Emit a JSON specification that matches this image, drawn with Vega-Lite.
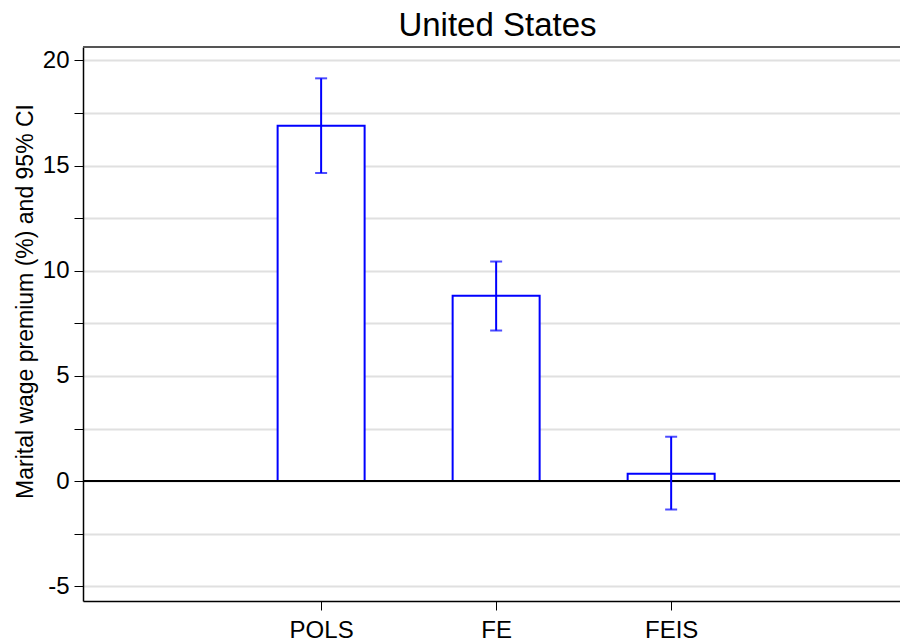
{
  "$schema": "https://vega.github.io/schema/vega-lite/v6.json",
  "width": 817,
  "height": 554,
  "autosize": {"type": "none"},
  "padding": {"left": 83, "top": 47, "right": 0, "bottom": 41},
  "background": "white",
  "config": {
    "view": {"stroke": null},
    "font": "Liberation Sans",
    "axis": {"labelFont": "Liberation Sans", "titleFont": "Liberation Sans", "labelColor": "black", "titleColor": "black", "titleFontWeight": "normal"}
  },
  "title": {"text": "United States", "fontSize": 33, "fontWeight": "normal", "font": "Liberation Sans", "color": "black", "anchor": "middle", "offset": 3, "dx": 6},
  "data": {"values": [
    {"model": "POLS", "pos": 1, "est": 16.9, "lo": 14.65, "hi": 19.15},
    {"model": "FE", "pos": 2, "est": 8.81, "lo": 7.16, "hi": 10.44},
    {"model": "FEIS", "pos": 3, "est": 0.35, "lo": -1.35, "hi": 2.11}
  ]},
  "layer": [
    {
      "mark": {"type": "rule", "color": "#555555", "strokeWidth": 2},
      "encoding": {"y": {"datum": 20.64}}
    },
    {
      "mark": {"type": "bar", "fill": "white", "stroke": "#0000ff", "strokeWidth": 2, "width": 87},
      "encoding": {
        "x": {"field": "pos", "type": "quantitative",
          "scale": {"domain": [-0.332, 4.279], "nice": false, "zero": false},
          "axis": {"title": null, "values": [1, 2, 3], "grid": false,
            "labelExpr": "datum.value == 1 ? 'POLS' : datum.value == 2 ? 'FE' : 'FEIS'",
            "labelFontSize": 24, "labelPadding": 8, "tickSize": 9, "tickColor": "black", "domainColor": "black", "domainWidth": 1.5, "tickWidth": 1}},
        "y": {"field": "est", "type": "quantitative",
          "scale": {"domain": [-5.70, 20.64], "nice": false, "zero": false},
          "axis": {"title": "Marital wage premium (%) and 95% CI", "titleFontSize": 23, "titlePadding": 5, "titleY": 254,
            "values": [-5, -2.5, 0, 2.5, 5, 7.5, 10, 12.5, 15, 17.5, 20],
            "labelExpr": "datum.value % 5 == 0 ? datum.value : ''",
            "labelFontSize": 24, "labelPadding": 5, "tickSize": 9, "tickColor": "black", "domainColor": "black", "domainWidth": 1.5, "tickWidth": 1,
            "grid": true, "gridColor": "#e0e0e0", "gridWidth": 2}},
        "y2": {"datum": 0}
      }
    },
    {
      "mark": {"type": "rule", "color": "black", "strokeWidth": 2},
      "encoding": {"y": {"datum": 0}}
    },
    {
      "mark": {"type": "rule", "color": "#0000ff", "strokeWidth": 2},
      "encoding": {
        "x": {"field": "pos", "type": "quantitative"},
        "y": {"field": "lo", "type": "quantitative"},
        "y2": {"field": "hi"}
      }
    },
    {
      "mark": {"type": "tick", "color": "#0000ff", "thickness": 2, "size": 12, "orient": "horizontal"},
      "encoding": {
        "x": {"field": "pos", "type": "quantitative"},
        "y": {"field": "hi", "type": "quantitative"}
      }
    },
    {
      "mark": {"type": "tick", "color": "#0000ff", "thickness": 2, "size": 12, "orient": "horizontal"},
      "encoding": {
        "x": {"field": "pos", "type": "quantitative"},
        "y": {"field": "lo", "type": "quantitative"}
      }
    }
  ]
}
